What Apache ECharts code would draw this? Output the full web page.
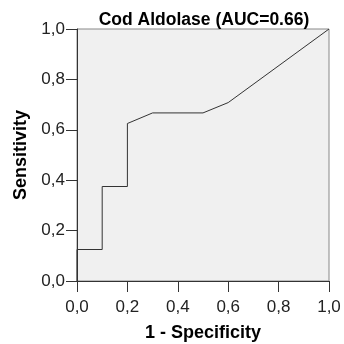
<!DOCTYPE html>
<html><head><meta charset="utf-8">
<script src="https://cdn.jsdelivr.net/npm/echarts@6/dist/echarts.min.js"></script>
<style>html,body{margin:0;padding:0;background:#fff}#c{width:344px;height:344px}</style>
</head><body><div id="c"></div>
<script>
var fpr = [0, 0, 0.1, 0.1, 0.2, 0.2, 0.3, 0.5, 0.6, 1.0];
var tpr = [0, 0.125, 0.125, 0.375, 0.375, 0.625, 0.667, 0.667, 0.708, 1.0];
var titleText = 'Cod Aldolase (AUC=0.66)';
var xName = '1 - Specificity';
var yName = 'Sensitivity';
var pts = fpr.map(function(x, i){ return [x, tpr[i]]; });
var fmt = function(v){ return v.toFixed(1).replace('.', ','); };
var font = '"Liberation Sans", Arial, sans-serif';
var chart = echarts.init(document.getElementById('c'));
chart.setOption({
  animation: false,
  title: { text: titleText, left: 199, textAlign: 'center', top: 6,
    textStyle: { fontFamily: font, fontSize: 17.5, fontWeight: 'bold', color: '#000' } },
  grid: { left: 77, right: 15, top: 29, bottom: 63, show: true, containLabel: false,
    outerBoundsMode: 'none',
    backgroundColor: '#f0f0f0', borderColor: '#888', borderWidth: 1 },
  xAxis: { type: 'value', min: 0, max: 1, interval: 0.2,
    name: xName, nameLocation: 'middle', nameGap: 43,
    nameTextStyle: { fontFamily: font, fontSize: 18, fontWeight: 'bold', color: '#000' },
    axisLine: { lineStyle: { color: '#333' } },
    axisTick: { length: 11, lineStyle: { color: '#333' } },
    axisLabel: { formatter: fmt, fontFamily: font, fontSize: 17, color: '#222', margin: 18 },
    splitLine: { show: false } },
  yAxis: { type: 'value', min: 0, max: 1, interval: 0.2,
    name: yName, nameLocation: 'middle', nameGap: 46,
    nameTextStyle: { fontFamily: font, fontSize: 18, fontWeight: 'bold', color: '#000' },
    axisLine: { lineStyle: { color: '#333' } },
    axisTick: { length: 11, lineStyle: { color: '#333' } },
    axisLabel: { formatter: fmt, fontFamily: font, fontSize: 17, color: '#222', margin: 12 },
    splitLine: { show: false } },
  series: [{ type: 'line', data: pts, symbol: 'none',
    lineStyle: { color: '#333', width: 1 } }]
});
</script></body></html>
